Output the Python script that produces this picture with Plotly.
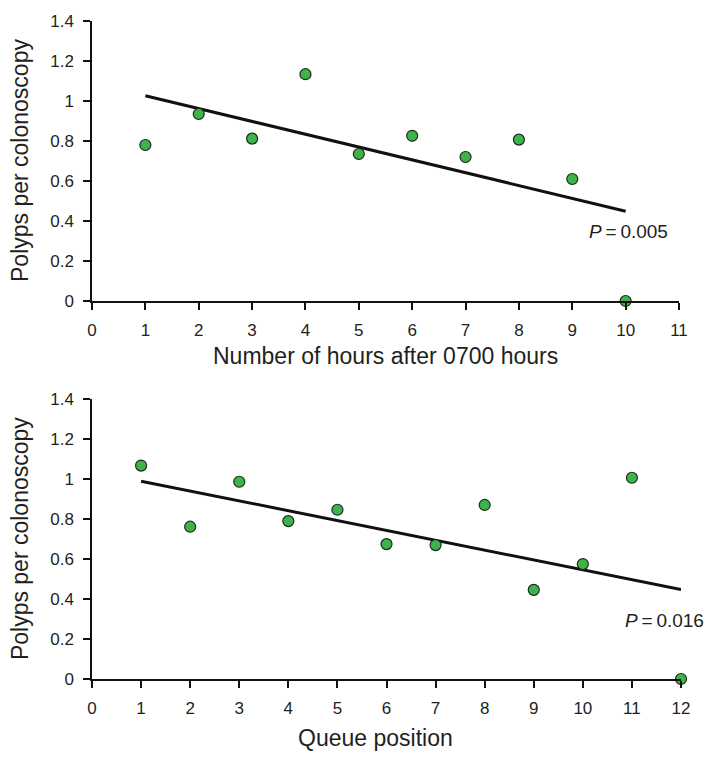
import plotly.graph_objects as go

# ---- data ----
hours_x = [1, 2, 3, 4, 5, 6, 7, 8, 9, 10]
hours_y = [0.78, 0.935, 0.812, 1.134, 0.735, 0.826, 0.72, 0.807, 0.61, 0.0]
hours_fit_x = [1, 10]
hours_fit_y = [1.026, 0.449]
hours_p = "0.005"

queue_x = [1, 2, 3, 4, 5, 6, 7, 8, 9, 10, 11, 12]
queue_y = [1.068, 0.762, 0.987, 0.790, 0.847, 0.675, 0.670, 0.871, 0.446, 0.575, 1.007, 0.0]
queue_fit_x = [1, 12]
queue_fit_y = [0.99, 0.448]
queue_p = "0.016"

y_ticks = [0, 0.2, 0.4, 0.6, 0.8, 1, 1.2, 1.4]
y_tick_text = ["0", "0.2", "0.4", "0.6", "0.8", "1", "1.2", "1.4"]
hours_ticks = list(range(0, 12))
queue_ticks = list(range(0, 13))

x_title_top = "Number of hours after 0700 hours"
x_title_bottom = "Queue position"
y_title = "Polyps per colonoscopy"

FONT = "Liberation Sans, Arial, Helvetica, sans-serif"
TXT = "#231f20"
GREEN = "#3db34a"

fig = go.Figure()

marker = dict(size=11, color=GREEN, line=dict(color="#1c2a1c", width=1.2))

fig.add_trace(go.Scatter(x=hours_fit_x, y=hours_fit_y, mode="lines",
                         line=dict(color="#111111", width=3), xaxis="x", yaxis="y",
                         showlegend=False, hoverinfo="skip"))
fig.add_trace(go.Scatter(x=hours_x, y=hours_y, mode="markers", marker=marker,
                         xaxis="x", yaxis="y", showlegend=False, cliponaxis=False))
fig.add_trace(go.Scatter(x=queue_fit_x, y=queue_fit_y, mode="lines",
                         line=dict(color="#111111", width=3), xaxis="x2", yaxis="y2",
                         showlegend=False, hoverinfo="skip"))
fig.add_trace(go.Scatter(x=queue_x, y=queue_y, mode="markers", marker=marker,
                         xaxis="x2", yaxis="y2", showlegend=False, cliponaxis=False))

axis_common = dict(showgrid=False, zeroline=False, showline=True, linecolor="#111111",
                   linewidth=1.5, ticks="outside", ticklen=7, tickwidth=1.5,
                   tickcolor="#111111", ticklabelstandoff=6,
                   tickfont=dict(family=FONT, size=17, color=TXT))

fig.update_layout(
    width=714, height=759,
    margin=dict(l=92, r=33, t=15, b=80),
    paper_bgcolor="white", plot_bgcolor="white",
    xaxis=dict(domain=[0, 0.9966], range=[0, 11], tickvals=hours_ticks,
               anchor="y", **axis_common),
    yaxis=dict(domain=[0.5745, 1.0], range=[0, 1.4], tickvals=y_ticks,
               ticktext=y_tick_text, anchor="x", **axis_common),
    xaxis2=dict(domain=[0, 1.0], range=[0, 12], tickvals=queue_ticks,
                anchor="y2", **axis_common),
    yaxis2=dict(domain=[0, 0.4252], range=[0, 1.4], tickvals=y_ticks,
                ticktext=y_tick_text, anchor="x2", **axis_common),
)

title_font = dict(family=FONT, size=23, color=TXT)
p_font = dict(family=FONT, size=19, color=TXT)

annotations = [
    dict(text=x_title_top, xref="x domain", yref="y domain", x=0.5, y=0,
         yshift=-55, xanchor="center", yanchor="middle", showarrow=False, font=title_font),
    dict(text=x_title_bottom, xref="x2 domain", yref="y2 domain", x=0.482, y=0,
         yshift=-59, xanchor="center", yanchor="middle", showarrow=False, font=title_font),
    dict(text=y_title, xref="paper", yref="y domain", x=0, xshift=-72, y=0.5,
         textangle=-90, xanchor="center", yanchor="middle", showarrow=False, font=title_font),
    dict(text=y_title, xref="paper", yref="y2 domain", x=0, xshift=-72, y=0.5,
         textangle=-90, xanchor="center", yanchor="middle", showarrow=False, font=title_font),
    dict(text="<i>P</i>\u2009=\u2009" + hours_p, xref="x", yref="y", x=9.27, y=0.345,
         xanchor="left", yanchor="middle", showarrow=False, font=p_font),
    dict(text="<i>P</i>\u2009=\u2009" + queue_p, xref="x2", yref="y2", x=10.82, y=0.293,
         xanchor="left", yanchor="middle", showarrow=False, font=p_font),
]
fig.update_layout(annotations=annotations)

fig.write_html("out.html", config={"displayModeBar": False},
               post_script="document.body.style.margin='0';document.body.style.padding='0';")
